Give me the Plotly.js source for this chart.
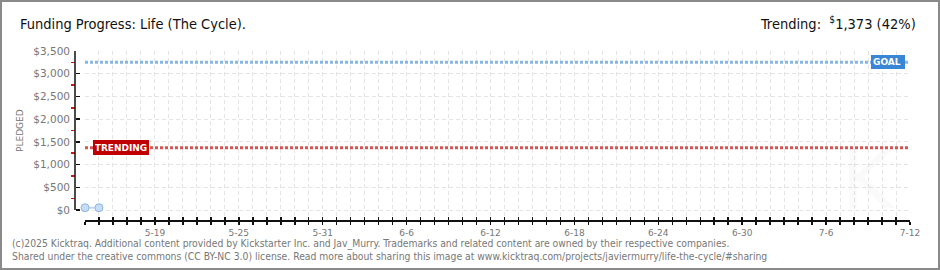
<!DOCTYPE html>
<html>
<head>
<meta charset="utf-8">
<script src="https://cdn.plot.ly/plotly-3.0.1.min.js"></script>
<style>
  html, body { margin: 0; padding: 0; background: #fff; }
  #wrap { position: relative; width: 940px; height: 270px; }
  #chart { width: 940px; height: 270px; }
  #frame { position: absolute; left: 0; top: 0; width: 940px; height: 270px; box-sizing: border-box; border: 2px solid #8a8a8a; pointer-events: none; }
</style>
</head>
<body>
<div id="wrap"><div id="chart"></div><div id="frame"></div></div>
<script>
// ---- data ----
const pledgeDates = ['2025-05-14', '2025-05-15'];
const pledgeValues = [50, 50];
const goalValue = 3250;
const trendingValue = 1373;
const trendingPct = 42;
const xRange = ['2025-05-14', '2025-07-12'];
const yTickValues = [0, 500, 1000, 1500, 2000, 2500, 3000, 3500];
const yTickLabels = ['$0', '$500', '$1,000', '$1,500', '$2,000', '$2,500', '$3,000', '$3,500'];
const yMinorTicks = [250, 750, 1250, 1750, 2250, 2750, 3250];
const titleText = 'Funding Progress: Life (The Cycle).';
const trendingText = 'Trending:  <sup>$</sup>1,373 (' + trendingPct + '%)';
const footer1 = '(c)2025 Kicktraq. Additional content provided by Kickstarter Inc. and Jav_Murry. Trademarks and related content are owned by their respective companies.';
const footer2 = 'Shared under the creative commons (CC BY-NC 3.0) license. Read more about sharing this image at www.kicktraq.com/projects/javiermurry/life-the-cycle/#sharing';

// ---- layout geometry ----
const W = 940, H = 270;
const L = 75, R = 30, T = 51, B = 50;
const PW = W - L - R, PH = H - T - B;
const px2x = p => (p - L) / PW;
const px2y = p => (H - B - p) / PH;
const DAY = 86400000;

const traces = [
  { x: xRange, y: [goalValue, goalValue], mode: 'lines', hoverinfo: 'skip',
    line: { color: '#86b6e8', width: 3, dash: '3px,2px' } },
  { x: xRange, y: [trendingValue, trendingValue], mode: 'lines', hoverinfo: 'skip',
    line: { color: '#d65454', width: 3, dash: '3px,2px' } },
  { x: pledgeDates, y: pledgeValues, mode: 'lines+markers', hoverinfo: 'skip', cliponaxis: false,
    line: { color: '#c2daf3', width: 2 },
    marker: { size: 8, color: '#c6ddf5', line: { color: '#8db4e0', width: 1 } } },
  { x: xRange, y: [null, null], xaxis: 'x2', yaxis: 'y', mode: 'lines', hoverinfo: 'skip', showlegend: false }
];

const gridStyle = { gridcolor: '#e4e4e4', griddash: '4px,3px', gridwidth: 1 };
const headFont = { family: 'DejaVu Sans Condensed', size: 14.5, color: '#111' };

const layout = {
  width: W, height: H,
  margin: { l: L, r: R, t: T, b: B, pad: 0 },
  paper_bgcolor: '#fff', plot_bgcolor: '#fff',
  showlegend: false,
  font: { family: 'DejaVu Sans', color: '#666' },
  title: { text: titleText, x: 20 / W, xanchor: 'left', xref: 'container',
           y: 1 - 24 / H, yanchor: 'middle', yref: 'container', font: headFont },
  xaxis: {
    type: 'date', range: xRange, domain: [px2x(85), 1],
    showline: true, linecolor: '#111', linewidth: 1.5,
    ticks: 'outside', ticklen: 3, tickwidth: 1.5, tickcolor: '#111',
    tick0: '2025-05-19', dtick: 6 * DAY, tickformat: '%-m-%-d',
    tickfont: { family: 'DejaVu Sans', size: 9, color: '#777' },
    ticklabelstandoff: 1,
    showgrid: true, ...gridStyle,
    minor: { dtick: DAY, tick0: '2025-05-14', ticks: 'outside', ticklen: 3, tickwidth: 1.5, tickcolor: '#111',
             showgrid: true, ...gridStyle },
    zeroline: false, fixedrange: true
  },
  xaxis2: {
    type: 'date', overlaying: 'x', anchor: 'y', side: 'bottom', range: xRange,
    showline: false, showgrid: false, showticklabels: false,
    ticks: 'inside', ticklen: 3, tickwidth: 1.5, tickcolor: '#111',
    tick0: '2025-05-14', dtick: DAY, fixedrange: true
  },
  yaxis: {
    range: [-220, 3500], anchor: 'free', position: 0,
    showline: false, zeroline: false,
    tickmode: 'array', tickvals: yTickValues, ticktext: yTickLabels,
    ticks: 'inside', ticklen: 4, tickwidth: 1.5, tickcolor: '#111',
    tickfont: { family: 'DejaVu Sans', size: 10.5, color: '#777' },
    ticklabelstandoff: 5,
    showgrid: true, ...gridStyle,
    minor: { tickmode: 'array', tickvals: yMinorTicks,
             ticks: 'outside', ticklen: 4, tickwidth: 1.5, tickcolor: '#e01010', showgrid: false },
    fixedrange: true
  },
  shapes: [
    { type: 'line', xref: 'paper', yref: 'y', x0: 0, x1: 0, y0: 0, y1: 3500,
      line: { color: '#111', width: 1.5 } }
  ],
  annotations: [
    { text: trendingText, xref: 'paper', yref: 'paper', x: px2x(918), y: px2y(23),
      xanchor: 'right', yanchor: 'middle', showarrow: false, font: headFont },
    { text: 'PLEDGED', xref: 'paper', yref: 'paper', x: px2x(20), y: px2y(130),
      textangle: -90, showarrow: false, xanchor: 'center', yanchor: 'middle',
      font: { family: 'DejaVu Sans', size: 9, color: '#777' } },
    { text: 'TRENDING', xref: 'paper', yref: 'y', x: px2x(120.5), y: trendingValue,
      xanchor: 'center', yanchor: 'middle', showarrow: false,
      bgcolor: '#c00000', bordercolor: '#c00000', borderwidth: 1, borderpad: 1,
      width: 52, height: 11,
      font: { family: 'DejaVu Sans', size: 9, color: '#fff', weight: 'bold' } },
    { text: 'GOAL', xref: 'paper', yref: 'y', x: px2x(888), y: goalValue,
      xanchor: 'center', yanchor: 'middle', showarrow: false, align: 'left',
      bgcolor: '#3a86d6', bordercolor: '#3a86d6', borderwidth: 1, borderpad: 1,
      width: 30, height: 10,
      font: { family: 'DejaVu Sans', size: 9, color: '#fff', weight: 'bold' } },
    { text: 'K', xref: 'paper', yref: 'paper', x: px2x(868), y: px2y(180),
      showarrow: false, xanchor: 'center', yanchor: 'middle',
      font: { family: 'DejaVu Sans', size: 80, color: 'rgba(0,0,0,0.018)' } },
    { text: footer1, xref: 'paper', yref: 'paper', x: px2x(10), y: px2y(243),
      xanchor: 'left', yanchor: 'middle', showarrow: false,
      font: { family: 'DejaVu Sans Condensed', size: 10.3, color: '#777' } },
    { text: footer2, xref: 'paper', yref: 'paper', x: px2x(10), y: px2y(256),
      xanchor: 'left', yanchor: 'middle', showarrow: false,
      font: { family: 'DejaVu Sans Condensed', size: 10.3, color: '#777' } }
  ]
};

Plotly.newPlot('chart', traces, layout, { staticPlot: true, displayModeBar: false });
</script>
</body>
</html>
